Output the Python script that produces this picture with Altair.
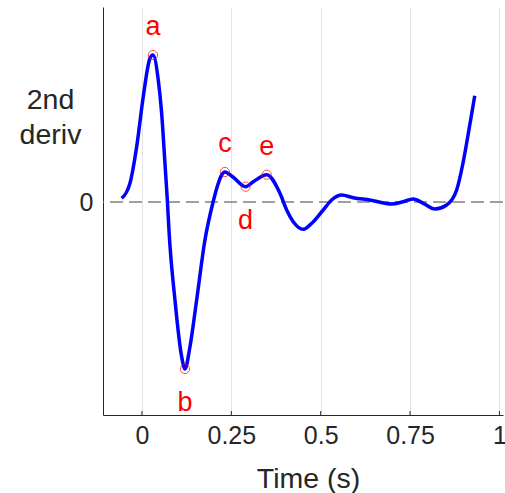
import altair as alt
import pandas as pd

# Curve samples (time in s, 2nd derivative, arbitrary units)
time_s = [-0.0568, -0.0336, -0.0148, 0.0036, 0.0224, 0.0308, 0.0456, 0.0551, 0.0643,
          0.0713, 0.0755, 0.0923, 0.111, 0.1203, 0.1343, 0.153, 0.1762, 0.199, 0.212,
          0.223, 0.232, 0.2545, 0.290, 0.3105, 0.349, 0.386, 0.4048, 0.4232, 0.4512,
          0.4792, 0.5071, 0.5306, 0.5586, 0.591, 0.6378, 0.6985, 0.7309, 0.7589, 0.7869,
          0.8196, 0.8523, 0.8803, 0.8987, 0.9127, 0.931]
deriv2 = [0.037, 0.187, 0.553, 1.053, 1.437, 1.47, 1.22, 0.887, 0.387,
          0.0, -0.28, -0.98, -1.547, -1.67, -1.447, -0.98, -0.38, 0.0, 0.17,
          0.27, 0.30, 0.25, 0.153, 0.20, 0.273, 0.087, -0.08, -0.197, -0.273,
          -0.197, -0.08, 0.02, 0.07, 0.043, 0.02, -0.02, 0.003, 0.03, -0.013,
          -0.07, -0.03, 0.12, 0.40, 0.68, 1.063]

# Marked points
pt_labels = ["a", "b", "c", "d", "e"]
pt_time = [0.0308, 0.1203, 0.232, 0.290, 0.349]
pt_value = [1.47, -1.67, 0.30, 0.153, 0.273]
pt_side = ["above", "below", "above", "below", "above"]

x_ticks = [0, 0.25, 0.5, 0.75, 1]
y_ticks = [0]

curve = pd.DataFrame({"t": time_s, "v": deriv2})
pts = pd.DataFrame({"t": pt_time, "v": pt_value, "lab": pt_labels, "side": pt_side})
ticks = pd.DataFrame({"t": x_ticks})
zero = pd.DataFrame({"v": y_ticks})

W, H = 400, 408
FONT = "Liberation Sans"
xs = alt.Scale(domain=[-0.109, 1.01], nice=False, zero=False)
ys = alt.Scale(domain=[-2.13, 1.95], nice=False, zero=False)

x_axis = alt.Axis(values=x_ticks, format=".2~f", grid=True, gridColor="#e3e3e3",
                  gridWidth=1, tickSize=0, labelPadding=28, labelBaseline="alphabetic",
                  labelFontSize=25, labelColor="#262626", labelFont=FONT,
                  domainColor="#262626", domainWidth=1,
                  title="Time (s)", titleFontSize=28.5, titleFontWeight="normal",
                  titleFont=FONT, titleColor="#262626", titleBaseline="alphabetic",
                  titleY=72, titleX=205)
y_axis = alt.Axis(values=y_ticks, format=".2~f", grid=False, tickSize=0, labelPadding=10,
                  labelFontSize=25, labelColor="#262626", labelFont=FONT,
                  domainColor="#262626", domainWidth=1,
                  title=["2nd", "deriv"], titleAngle=0, titleAlign="center",
                  titleBaseline="alphabetic", titleX=-53, titleY=101,
                  titleLineHeight=35, titleFontSize=28.5, titleFontWeight="normal",
                  titleFont=FONT, titleColor="#262626")

line = alt.Chart(curve).mark_line(color="#0000ff", strokeWidth=3.5,
                                  interpolate="monotone").encode(
    x=alt.X("t:Q", scale=xs, axis=x_axis),
    y=alt.Y("v:Q", scale=ys, axis=y_axis),
)

zero_line = alt.Chart(zero).mark_rule(color="#808080", strokeWidth=1.5,
                                      strokeDash=[13, 6]).encode(
    y=alt.Y("v:Q", scale=ys),
)

tick_marks = alt.Chart(ticks).mark_rule(color="#262626", strokeWidth=1).encode(
    x=alt.X("t:Q", scale=xs),
    y=alt.value(H),
    y2=alt.value(H - 4),
)

circles = alt.Chart(pts).mark_point(shape="circle", size=85, color="#ff0000",
                                    strokeWidth=1, filled=False).encode(
    x=alt.X("t:Q", scale=xs),
    y=alt.Y("v:Q", scale=ys),
)

lab_above = alt.Chart(pts).transform_filter(alt.datum.side == "above").mark_text(
    color="#ff0000", fontSize=27, font=FONT, dy=-28, baseline="middle").encode(
    x=alt.X("t:Q", scale=xs),
    y=alt.Y("v:Q", scale=ys),
    text="lab:N",
)
lab_below = alt.Chart(pts).transform_filter(alt.datum.side == "below").mark_text(
    color="#ff0000", fontSize=27, font=FONT, dy=34, baseline="middle").encode(
    x=alt.X("t:Q", scale=xs),
    y=alt.Y("v:Q", scale=ys),
    text="lab:N",
)

chart = alt.layer(zero_line, tick_marks, line, circles, lab_above, lab_below).properties(
    width=W, height=H,
    autosize=alt.AutoSizeParams(type="none"),
    padding={"left": 103, "top": 7, "right": 2, "bottom": 78},
    background="white",
).configure_view(strokeWidth=0)

chart.save("out.html", embed_options={"renderer": "svg", "actions": False})
